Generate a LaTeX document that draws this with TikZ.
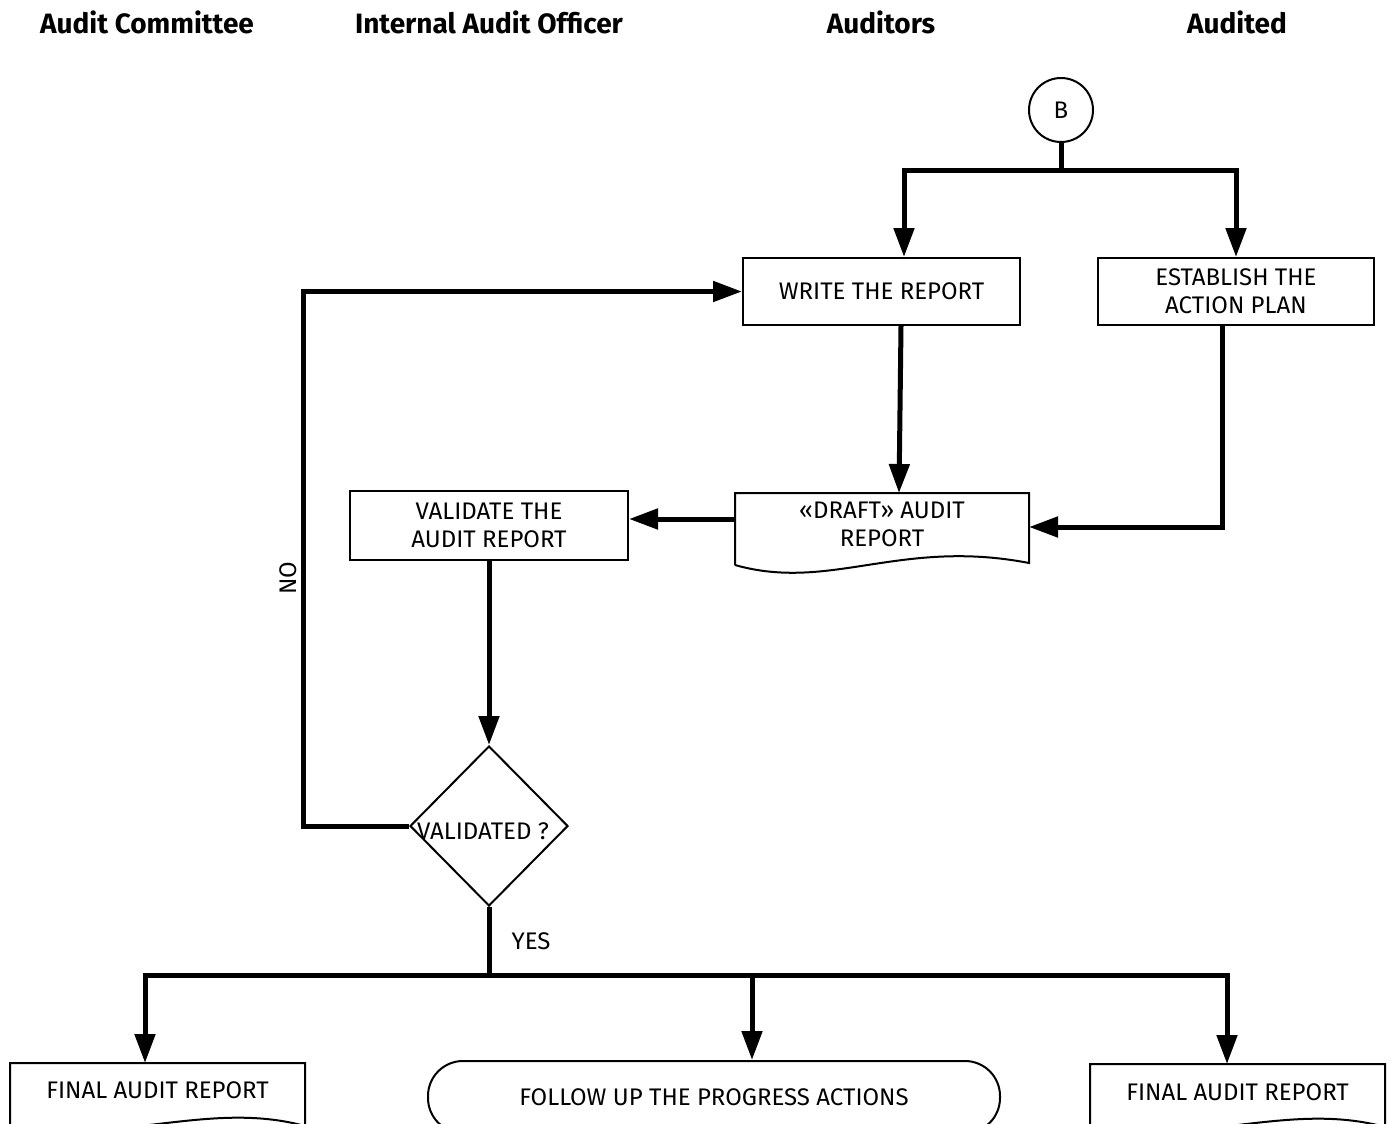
\documentclass[tikz,border=0pt]{standalone}
\usepackage{fontspec}
\setmainfont{Fira Sans}
\newfontfamily\hdrfont{Fira Sans}
\usetikzlibrary{shapes.geometric,arrows.meta,calc}
\begin{document}
\begin{tikzpicture}[x=1pt,y=-1pt,
  hdr/.style={font=\hdrfont\bfseries\fontsize{28}{30}\selectfont},
  txt/.style={font=\fontsize{24}{28}\selectfont, align=center},
  box/.style={draw, line width=2pt, txt, inner sep=0pt},
  conn/.style={line width=5pt},
  arr/.style={conn, -{Triangle[length=29pt,width=20pt]}},
  docline/.style={line width=2pt}]
\useasboundingbox[fill=white] (0,0) rectangle (1390,1124);

% headers
\node[hdr] (h1) at (147,22) {Audit Committee};
\node[hdr] (h2) at (489,22) {Internal Audit Officer};
\node[hdr] (h3) at (881,22) {Auditors};
\node[hdr] (h4) at (1237,22) {Audited};

% nodes
\node[circle, draw, line width=2pt, minimum size=64pt, inner sep=0pt, txt] (B) at (1061,110) {B};
\node[box, minimum width=277pt, minimum height=67pt] (write) at (881.5,291.5) {WRITE THE REPORT};
\node[box, minimum width=276pt, minimum height=67pt] (plan) at (1236,291.5) {ESTABLISH THE\\ACTION PLAN};
\node[box, minimum width=278pt, minimum height=69pt] (valrep) at (489,525.5) {VALIDATE THE\\AUDIT REPORT};

% draft document
\node[txt, minimum width=294pt, minimum height=72pt, inner sep=0pt] (draft) at (882,524) {«DRAFT» AUDIT\\REPORT};
\draw[docline] (735,565) -- (735,493) -- (1029,493) -- (1029,563)
  .. controls (900,538) and (830,592) .. (735,565);

% diamond
\node[diamond, draw, line width=2pt, minimum width=158pt, minimum height=160pt, inner sep=0pt] (val) at (489,826) {};
\node[txt] (valtxt) at (483,831) {VALIDATED ?};

% bottom row
\node[txt, minimum width=295pt, minimum height=60pt, inner sep=0pt] (f1) at (157.5,1090) {FINAL AUDIT REPORT};
\draw[docline] (10,1126) -- (10,1063) -- (305,1063) -- (305,1126)
  .. controls (210,1100) and (120,1145) .. (10,1126);
\node[box, rounded corners=35pt, minimum width=572pt, minimum height=72pt] (follow) at (714,1097) {FOLLOW UP THE PROGRESS ACTIONS};
\node[txt, minimum width=295pt, minimum height=60pt, inner sep=0pt] (f2) at (1237.5,1092) {FINAL AUDIT REPORT};
\draw[docline] (1090,1127) -- (1090,1064) -- (1385,1064) -- (1385,1127)
  .. controls (1290,1101) and (1200,1146) .. (1090,1127);

% connectors
\coordinate (jB) at (1061,170);
\draw[conn] (B.south) -- (jB);
\draw[arr] (jB) -| ([xshift=22.5pt]write.north);
\draw[arr] (jB) -| (plan.north);
\draw[arr] ([xshift=19.5pt]write.south) -- (899,493);
\draw[arr] ([xshift=-14pt]plan.south) |- (1029,527);
\draw[arr] (735,519) -- (valrep.east |- 0,519);
\draw[arr] (valrep.south) -- (val.north);

\coordinate (noc) at (303,826);
\draw[arr] (val.west) -- (noc) |- (write.west);
\node[txt, rotate=90] (nolbl) at (288,578) {NO};

\coordinate (jY) at (489,975);
\draw[conn] (val.south) -- (jY);
\node[txt] (yeslbl) at (531,941) {YES};
\draw[conn] (145,975) -- (1227,975);
\draw[arr] (jY) -| (145,1063);
\draw[arr] (jY) -| (follow.north -| 752,0);
\draw[arr] (jY) -| (1227,1064);
\end{tikzpicture}
\end{document}
